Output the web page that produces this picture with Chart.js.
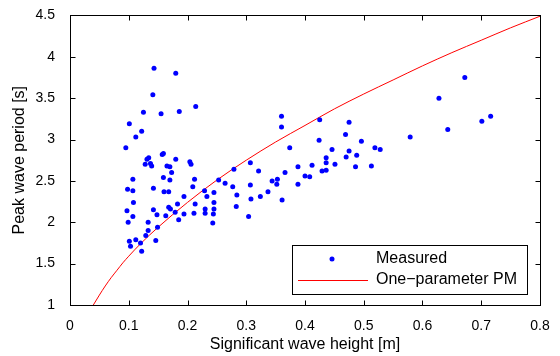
<!DOCTYPE html>
<html>
<head>
<meta charset="utf-8">
<script src="https://cdn.jsdelivr.net/npm/chart.js@4"></script>
<style>
  html, body { margin: 0; padding: 0; background: #fff; }
  #wrap { width: 560px; height: 356px; }
</style>
</head>
<body>
<div id="wrap"><canvas id="chart" width="560" height="356"></canvas></div>
<script>
// Measured points (significant wave height [m], peak period [s])
const measuredHs = [
  0.143, 0.180, 0.141, 0.125, 0.155, 0.186, 0.214, 0.101, 0.122, 0.112,
  0.095, 0.131, 0.134, 0.157, 0.159, 0.180, 0.204, 0.128, 0.137, 0.139,
  0.206, 0.165, 0.170, 0.173, 0.107, 0.159, 0.170, 0.212, 0.098, 0.107,
  0.142, 0.160, 0.168, 0.209, 0.108, 0.194, 0.097, 0.142, 0.168, 0.171,
  0.183, 0.179, 0.213, 0.107, 0.148, 0.163, 0.194, 0.211, 0.099, 0.133,
  0.185, 0.133, 0.149, 0.129, 0.101, 0.112, 0.120, 0.146, 0.103, 0.122,
  0.229, 0.253, 0.245, 0.233, 0.245, 0.230, 0.245, 0.230, 0.244, 0.243,
  0.264, 0.279, 0.277, 0.284, 0.283, 0.307, 0.307, 0.308, 0.304, 0.321,
  0.324, 0.360, 0.360, 0.425, 0.475, 0.628, 0.374, 0.424, 0.469, 0.579,
  0.337, 0.344, 0.353, 0.352, 0.361, 0.366, 0.388, 0.388, 0.400, 0.408,
  0.412, 0.429, 0.436, 0.436, 0.436, 0.446, 0.451, 0.470, 0.475, 0.488,
  0.486, 0.496, 0.513, 0.519, 0.528, 0.672, 0.701, 0.716, 0.643
];
const measuredTp = [
  3.86, 3.80, 3.54, 3.33, 3.31, 3.34, 3.40, 3.19, 3.10, 3.03,
  2.90, 2.76, 2.78, 2.82, 2.83, 2.76, 2.73, 2.70, 2.71, 2.68,
  2.70, 2.68, 2.67, 2.60, 2.52, 2.54, 2.51, 2.52, 2.40, 2.38,
  2.41, 2.37, 2.37, 2.43, 2.24, 2.31, 2.14, 2.15, 2.18, 2.16,
  2.22, 2.12, 2.22, 2.07, 2.09, 2.08, 2.10, 2.11, 2.00, 2.00,
  2.03, 1.90, 1.94, 1.84, 1.77, 1.79, 1.75, 1.78, 1.71, 1.65,
  2.38, 2.51, 2.36, 2.31, 2.24, 2.16, 2.16, 2.11, 2.10, 1.99,
  2.47, 2.64, 2.43, 2.33, 2.19, 2.72, 2.45, 2.28, 2.07, 2.62,
  2.31, 3.28, 3.15, 3.24, 3.21, 3.50, 2.90, 2.99, 3.06, 3.03,
  2.37, 2.50, 2.52, 2.46, 2.27, 2.60, 2.67, 2.46, 2.56, 2.55,
  2.69, 2.62, 2.63, 2.72, 2.78, 2.88, 2.70, 2.79, 2.86, 2.81,
  2.67, 2.98, 2.68, 2.90, 2.88, 3.75, 3.22, 3.28, 3.12
];

// One-parameter PM curve
const pmHs = [0.0397, 0.05, 0.06, 0.07, 0.08, 0.09, 0.10, 0.12, 0.15, 0.20, 0.25, 0.30,
              0.35, 0.40, 0.45, 0.50, 0.55, 0.60, 0.65, 0.70, 0.75, 0.80];
const pmTp = [1.00, 1.12, 1.23, 1.33, 1.42, 1.51, 1.59, 1.74, 1.94, 2.24, 2.51, 2.75,
              2.97, 3.17, 3.37, 3.55, 3.72, 3.89, 4.05, 4.20, 4.35, 4.49];

const xTicks = [0, 0.1, 0.2, 0.3, 0.4, 0.5, 0.6, 0.7, 0.8];
const yTicks = [1, 1.5, 2, 2.5, 3, 3.5, 4, 4.5];
const legendLabels = ['Measured', 'One\u2212parameter PM'];

const FONT = "'Liberation Sans', Arial, Helvetica, sans-serif";

// MATLAB-style box: full frame, inward ticks, legend in lower right
const boxPlugin = {
  id: 'box',
  afterDraw(chart) {
    const { ctx, chartArea: a, scales: { x, y } } = chart;
    const L = Math.round(a.left) + 0.5, R = Math.round(a.right) + 0.5;
    const T = Math.round(a.top) + 0.5, B = Math.round(a.bottom) + 0.5;
    ctx.save();
    ctx.strokeStyle = '#000';
    ctx.lineWidth = 1;
    ctx.strokeRect(L, T, R - L, B - T);
    ctx.beginPath();
    xTicks.forEach(v => {
      const px = Math.round(x.getPixelForValue(v)) + 0.5;
      ctx.moveTo(px, B); ctx.lineTo(px, B - 5);
      ctx.moveTo(px, T); ctx.lineTo(px, T + 5);
    });
    yTicks.forEach(v => {
      const py = Math.round(y.getPixelForValue(v)) + 0.5;
      ctx.moveTo(L, py); ctx.lineTo(L + 5, py);
      ctx.moveTo(R, py); ctx.lineTo(R - 5, py);
    });
    ctx.stroke();

    // legend
    const bx = 292.5, by = 245.5, bw = 235, bh = 49;
    ctx.fillStyle = '#fff';
    ctx.fillRect(bx, by, bw, bh);
    ctx.strokeRect(bx, by, bw, bh);
    const ds = chart.data.datasets;
    ctx.fillStyle = ds[0].backgroundColor;
    ctx.beginPath();
    ctx.arc(332, 259, 2.5, 0, Math.PI * 2);
    ctx.fill();
    ctx.strokeStyle = ds[1].borderColor;
    ctx.beginPath();
    ctx.moveTo(298, 280.5); ctx.lineTo(368, 280.5);
    ctx.stroke();
    ctx.fillStyle = '#000';
    ctx.font = '16px ' + FONT;
    ctx.textBaseline = 'middle';
    ctx.fillText(legendLabels[0], 376, 259);
    ctx.fillText(legendLabels[1], 376, 280);
    ctx.restore();
  }
};

const ctx = document.getElementById('chart').getContext('2d');
new Chart(ctx, {
  type: 'scatter',
  data: {
    datasets: [{
      label: legendLabels[0],
      data: measuredHs.map((h, i) => ({ x: h, y: measuredTp[i] })),
      backgroundColor: '#0000ff',
      borderColor: '#0000ff',
      pointRadius: 2.5,
      pointBorderWidth: 0
    }, {
      label: legendLabels[1],
      data: pmHs.map((h, i) => ({ x: h, y: pmTp[i] })),
      showLine: true,
      borderColor: '#ff0000',
      borderWidth: 1,
      pointRadius: 0,
      cubicInterpolationMode: 'monotone'
    }]
  },
  options: {
    responsive: false,
    animation: false,
    layout: { padding: { top: 13, right: 20, left: 0, bottom: 0 } },
    plugins: { legend: { display: false }, tooltip: { enabled: false } },
    scales: {
      x: {
        type: 'linear', min: 0, max: 0.8,
        grid: { display: false }, border: { display: false },
        afterBuildTicks: s => { s.ticks = xTicks.map(v => ({ value: v })); },
        afterFit: s => { s.height = 51; },
        ticks: { color: '#000', font: { family: FONT, size: 14 }, padding: 5,
                 maxRotation: 0, callback: v => String(v) },
        title: { display: true, text: 'Significant wave height [m]', color: '#000',
                 font: { family: FONT, size: 16 }, padding: { top: 0, bottom: 2 } }
      },
      y: {
        type: 'linear', min: 1, max: 4.5,
        grid: { display: false }, border: { display: false },
        afterBuildTicks: s => { s.ticks = yTicks.map(v => ({ value: v })); },
        afterFit: s => { s.width = 70; },
        ticks: { color: '#000', font: { family: FONT, size: 14 }, padding: 7,
                 callback: v => String(v) },
        title: { display: true, text: 'Peak wave period [s]', color: '#000',
                 font: { family: FONT, size: 16 }, padding: { top: 10, bottom: 0 } }
      }
    }
  },
  plugins: [boxPlugin]
});
</script>
</body>
</html>
